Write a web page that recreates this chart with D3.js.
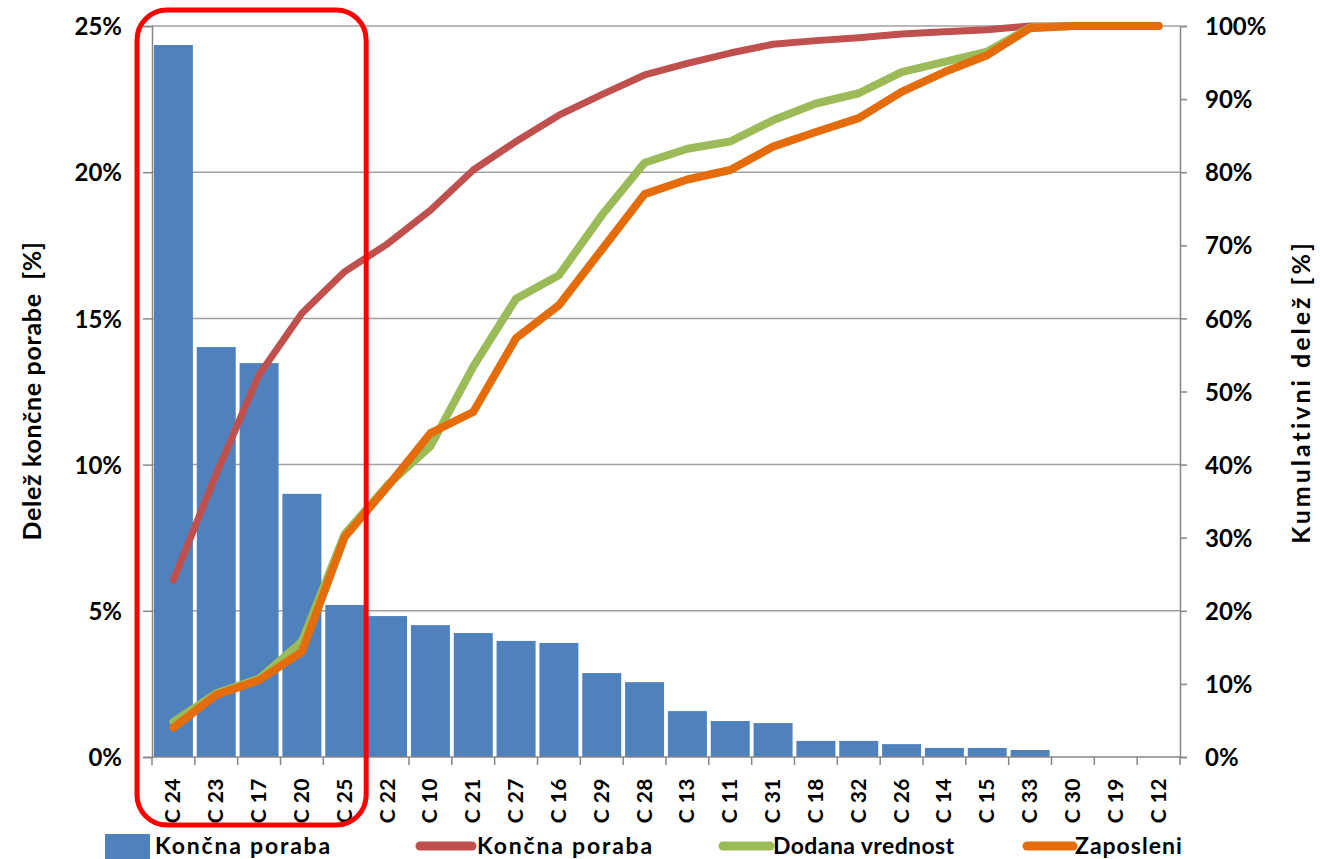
<!DOCTYPE html>
<html>
<head>
<meta charset="utf-8">
<script src="https://cdn.jsdelivr.net/npm/d3@7"></script>
<style>
  body { margin: 0; background: #fff; }
  text { font-family: Lato, "Open Sans", sans-serif; font-weight: bold; fill: #000; white-space: pre; }
</style>
</head>
<body>
<svg id="chart" width="1320" height="859"></svg>
<script>
// Sectors, ordered by share of final energy use
const categories = ["C 24", "C 23", "C 17", "C 20", "C 25", "C 22", "C 10", "C 21", "C 27", "C 16",
  "C 29", "C 28", "C 13", "C 11", "C 31", "C 18", "C 32", "C 26", "C 14", "C 15", "C 33", "C 30", "C 19", "C 12"];

// Share of final energy use per sector [%]
const finalUseShare = [24.35, 14.02, 13.47, 9.0, 5.2, 4.82, 4.51, 4.24, 3.97, 3.9,
  2.87, 2.56, 1.57, 1.23, 1.16, 0.55, 0.55, 0.44, 0.31, 0.31, 0.24, 0, 0, 0];

// Cumulative shares [%]
const cumFinalUse = [24.2, 38.7, 52.3, 60.7, 66.4, 70.2, 74.8, 80.3, 84.2, 87.8,
  90.6, 93.3, 94.9, 96.3, 97.5, 98.0, 98.4, 98.9, 99.2, 99.5, 100, 100, 100, 100];
const cumValueAdded = [4.8, 8.7, 10.7, 15.8, 30.5, 37.2, 42.5, 53.4, 62.7, 65.9,
  74.1, 81.3, 83.2, 84.2, 87.1, 89.4, 90.8, 93.7, 95.1, 96.5, 99.8, 100, 100, 100];
const cumEmployment = [4.0, 8.5, 10.5, 14.4, 30.1, 37.0, 44.3, 47.2, 57.3, 61.8,
  69.4, 77.0, 79.0, 80.3, 83.5, 85.5, 87.4, 91.0, 93.7, 96.0, 99.7, 100, 100, 100];

const leftTicks = [0, 5, 10, 15, 20, 25];
const rightTicks = [0, 10, 20, 30, 40, 50, 60, 70, 80, 90, 100];
const legendLabels = ["Končna poraba", "Končna poraba", "Dodana vrednost", "Zaposleni"];
const leftTitle = "Delež končne porabe  [%]";
const rightTitle = "Kumulativni delež [%]";

const colors = { bar: "#4F81BD", final: "#C0504D", added: "#9BBB59", employ: "#E46C0A" };

const svg = d3.select("#chart");
const plot = { left: 152, right: 1180, top: 26, bottom: 757 };

const x = d3.scaleBand().domain(categories)
  .range([plot.left, plot.right]).paddingInner(0.09).paddingOuter(0.045);
const yL = d3.scaleLinear().domain([0, 25]).range([plot.bottom, plot.top]);
const yR = d3.scaleLinear().domain([0, 100]).range([plot.bottom, plot.top]);
const cx = c => x(c) + x.bandwidth() / 2;
const edge = c => x(c) - (x.step() - x.bandwidth()) / 2;

// Horizontal gridlines on the left axis
svg.append("g").selectAll("line").data(leftTicks.filter(d => d > 0)).join("line")
  .attr("x1", plot.left).attr("x2", plot.right)
  .attr("y1", d => yL(d)).attr("y2", d => yL(d))
  .attr("stroke", "#a0a0a0").attr("stroke-width", 1.5);

// Bars
svg.append("g").selectAll("rect").data(categories).join("rect")
  .attr("x", c => x(c)).attr("width", x.bandwidth())
  .attr("y", (c, i) => yL(finalUseShare[i]))
  .attr("height", (c, i) => yL(0) - yL(finalUseShare[i]))
  .attr("fill", colors.bar);

// Left axis
const axisL = svg.append("g").attr("transform", `translate(${plot.left},0)`)
  .call(d3.axisLeft(yL).tickValues(leftTicks).tickSize(9).tickPadding(21).tickFormat(d => d + "%"));
axisL.select(".domain").attr("stroke", "#868686").attr("stroke-width", 1.5);
axisL.selectAll(".tick line").attr("stroke", "#868686").attr("stroke-width", 1.5);
axisL.selectAll("text").style("font-size", "24px").attr("fill", "#000").attr("dy", "0.36em");

// Right axis
const axisR = svg.append("g").attr("transform", `translate(${plot.right},0)`)
  .call(d3.axisRight(yR).tickValues(rightTicks).tickSize(7).tickPadding(18).tickFormat(d => d + "%"));
axisR.select(".domain").attr("stroke", "#868686").attr("stroke-width", 1.5);
axisR.selectAll(".tick line").attr("stroke", "#868686").attr("stroke-width", 1.5);
axisR.selectAll("text").style("font-size", "24px").attr("fill", "#000").attr("dy", "0.36em");

// Bottom axis with ticks at category boundaries
svg.append("line").attr("x1", plot.left).attr("x2", plot.right)
  .attr("y1", plot.bottom).attr("y2", plot.bottom)
  .attr("stroke", "#868686").attr("stroke-width", 1.5);
svg.append("g").selectAll("line").data(categories.concat(["end"])).join("line")
  .attr("x1", (c, i) => i < categories.length ? edge(c) : plot.right)
  .attr("x2", (c, i) => i < categories.length ? edge(c) : plot.right)
  .attr("y1", plot.bottom).attr("y2", plot.bottom + 8)
  .attr("stroke", "#868686").attr("stroke-width", 1.5);
svg.append("g").selectAll("text").data(categories).join("text")
  .attr("transform", c => `translate(${cx(c) + 7},${plot.bottom + 21}) rotate(-90)`)
  .attr("text-anchor", "end")
  .style("font-size", "21px").style("letter-spacing", "0.5px")
  .text(c => c);

// Cumulative lines
const line = d3.line().x((d, i) => cx(categories[i])).y(d => yR(d));
[[cumFinalUse, colors.final, 7], [cumValueAdded, colors.added, 8], [cumEmployment, colors.employ, 8]]
  .forEach(([vals, col, w]) => {
    svg.append("path").datum(vals).attr("d", line)
      .attr("fill", "none").attr("stroke", col).attr("stroke-width", w)
      .attr("stroke-linecap", "round").attr("stroke-linejoin", "round");
  });

// Highlight frame round the five largest consumers
const hl = categories.slice(0, 5);
const frameLeft = edge(hl[0]) - 15;
const frameRight = edge(categories[5]);
svg.append("rect")
  .attr("x", frameLeft).attr("y", 10)
  .attr("width", frameRight - frameLeft)
  .attr("height", 815).attr("rx", 30).attr("ry", 30)
  .attr("fill", "none").attr("stroke", "#FF0000").attr("stroke-width", 5);

// Axis titles
svg.append("text").attr("transform", `translate(41,391) rotate(-90)`)
  .attr("text-anchor", "middle").style("font-size", "25px").style("letter-spacing", "0.7px").text(leftTitle);
svg.append("text").attr("transform", `translate(1310,392) rotate(-90)`)
  .attr("text-anchor", "middle").style("font-size", "25px").style("letter-spacing", "3px").text(rightTitle);

// Legend
const legend = svg.append("g");
legend.append("rect").attr("x", 105).attr("y", 834).attr("width", 45).attr("height", 25).attr("fill", colors.bar);
const legendLines = [[420, 472, colors.final], [723, 770, colors.added], [1027, 1073, colors.employ]];
legendLines.forEach(([a, b, col]) => {
  legend.append("line").attr("x1", a).attr("x2", b).attr("y1", 846).attr("y2", 846)
    .attr("stroke", col).attr("stroke-width", 9).attr("stroke-linecap", "round");
});
const legendX = [155, 477, 773, 1075];
const legendSpacing = [1.8, 1.8, 0.4, 1];
legend.selectAll("text.lg").data(legendLabels).join("text").attr("class", "lg")
  .attr("x", (d, i) => legendX[i]).attr("y", 854)
  .style("font-size", "23px").style("letter-spacing", (d, i) => legendSpacing[i] + "px").text(d => d);
</script>
</body>
</html>
